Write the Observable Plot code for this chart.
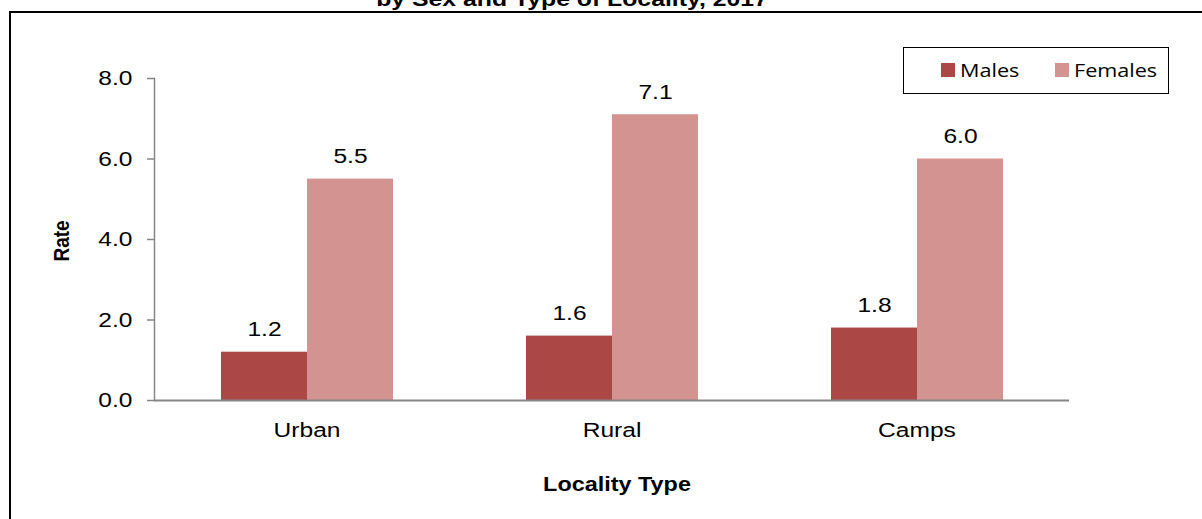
<!DOCTYPE html>
<html><head><meta charset="utf-8">
<script src="https://cdn.jsdelivr.net/npm/d3@7"></script>
<script src="https://cdn.jsdelivr.net/npm/@observablehq/plot@0.6"></script>
<style>
body{margin:0;background:#fff;font-family:"Liberation Sans",Arial,sans-serif;}
#wrap{position:relative;width:1202px;height:519px;overflow:hidden;background:#fff;}
#frame{position:absolute;left:9px;top:11px;width:1300px;height:700px;border:2.5px solid #000;box-sizing:border-box;}
#title{position:absolute;left:572px;top:-12px;transform:translateX(-50%) scaleX(1.18);font-weight:bold;font-size:21px;line-height:1;white-space:nowrap;}
#chart{position:absolute;left:0;top:0;}
#legend{position:absolute;left:903px;top:47px;width:266px;height:47px;border:1.5px solid #000;box-sizing:border-box;background:#fff;font-family:"Open Sans","Noto Sans",sans-serif;font-size:18px;}
.li{position:absolute;top:0;height:44px;display:flex;align-items:center;}
.sw{width:14px;height:14px;margin-right:5px;flex:none;}
.li span{display:inline-block;transform:scaleX(1.2);transform-origin:left center;}
#ylab{position:absolute;left:61px;top:241px;transform:translate(-50%,-50%) scaleX(1.17) rotate(-90deg);font-weight:bold;font-size:19px;line-height:1;white-space:nowrap;}
#xlab{position:absolute;left:617px;top:474px;transform:translateX(-50%) scaleX(1.17);font-weight:bold;font-size:20px;line-height:1;white-space:nowrap;}
</style></head>
<body>
<div id="wrap">
  <div id="frame"></div>
  <div id="title">by Sex and Type of Locality, 2017</div>
  <div id="chart"></div>
  <div id="ylab">Rate</div>
  <div id="xlab">Locality Type</div>
  <div id="legend"></div>
</div>
<script>
const localities = ["Urban", "Rural", "Camps"];
const sexes = ["Males", "Females"];
const males = [1.2, 1.6, 1.8];
const females = [5.5, 7.1, 6.0];
const colors = ["#AB4846", "#D39391"];
const yTicks = [0, 2, 4, 6, 8];

const data = localities.flatMap((l, i) => [
  {locality: l, sex: "Males", value: males[i]},
  {locality: l, sex: "Females", value: females[i]}
]);

const chart = Plot.plot({
  width: 1202, height: 519,
  marginLeft: 153, marginRight: 133, marginTop: 78, marginBottom: 119,
  style: {fontFamily: "'Liberation Sans', Arial, sans-serif", fontSize: "21px", color: "#000", background: "transparent", overflow: "visible"},
  fx: {domain: localities, padding: 0, label: null},
  x: {domain: sexes, paddingInner: 0, paddingOuter: 0.757, axis: null},
  y: {domain: [0, 8]},
  color: {domain: sexes, range: colors},
  marks: [
    Plot.frame({anchor: "left", facetAnchor: "left", stroke: "#868686", strokeWidth: 1.5}),
    Plot.axisY({ticks: yTicks, tickFormat: d => d.toFixed(1), tickSize: 7, tickPadding: 15, stroke: "#868686", strokeWidth: 1.5, label: null, fontSize: 21}),
    Plot.barY(data, {fx: "locality", x: "sex", y: "value", fill: "sex"}),
    Plot.ruleY([0], {stroke: "#868686", strokeWidth: 2}),
    Plot.text(data, {fx: "locality", x: "sex", y: "value", text: d => d.value.toFixed(1), dy: -16, lineAnchor: "bottom", fontSize: 21, fill: "#000"}),
    Plot.axisFx({anchor: "bottom", tickSize: 0, tickPadding: 22, label: null, fontSize: 21})
  ]
});
// horizontal stretch of the texts, as in the reference picture
const SX = 1.17;
chart.querySelectorAll("text").forEach(t => {
  const x = +(t.getAttribute("x") || 0);
  const tr = t.getAttribute("transform") || "";
  t.setAttribute("transform", `${tr} translate(${x},0) scale(${SX},1) translate(${-x},0)`);
});
document.getElementById("chart").appendChild(chart);

const legend = document.getElementById("legend");
const lefts = [37, 151];
sexes.forEach((s, i) => {
  const item = document.createElement("div");
  item.className = "li";
  item.style.left = lefts[i] + "px";
  item.innerHTML = `<div class="sw" style="background:${colors[i]}"></div><span>${s}</span>`;
  legend.appendChild(item);
});
</script>
</body></html>
